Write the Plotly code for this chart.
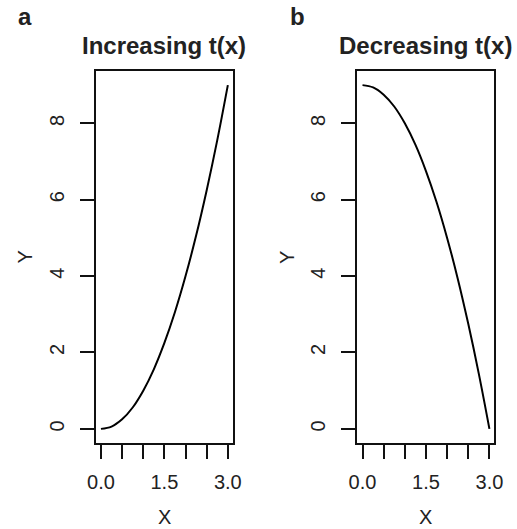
import plotly.graph_objects as go

# values
x_vals = [0.0, 0.25, 0.5, 0.75, 1.0, 1.25, 1.5, 1.75, 2.0, 2.25, 2.5, 2.75, 3.0]
y_incr = [0.0, 0.06, 0.25, 0.56, 1.0, 1.56, 2.25, 3.06, 4.0, 5.06, 6.25, 7.56, 9.0]
y_decr = [9.0, 8.94, 8.75, 8.44, 8.0, 7.44, 6.75, 5.94, 5.0, 3.94, 2.75, 1.44, 0.0]

x_ticks = [0.0, 0.5, 1.0, 1.5, 2.0, 2.5, 3.0]
x_labels = ["0.0", "", "", "1.5", "", "", "3.0"]
y_ticks = [0, 2, 4, 6, 8]
y_labels = ["0", "2", "4", "6", "8"]

W, H = 517, 529
font = "Liberation Sans, Arial, sans-serif"

fig = go.Figure()
fig.add_trace(go.Scatter(x=x_vals, y=y_incr, mode="lines", line=dict(color="black", width=2, shape="spline"),
                         xaxis="x", yaxis="y", showlegend=False))
fig.add_trace(go.Scatter(x=x_vals, y=y_decr, mode="lines", line=dict(color="black", width=2, shape="spline"),
                         xaxis="x2", yaxis="y2", showlegend=False))

ydom = [1 - 443 / H, 1 - 71 / H]
xax = dict(range=[-0.12, 3.12], tickvals=x_ticks, ticktext=x_labels, ticks="outside", ticklen=14,
           tickwidth=2, tickcolor="#111", showline=True, mirror=True, linecolor="#111", linewidth=2,
           showgrid=False, zeroline=False, tickfont=dict(size=20, color="#222", family=font),
           ticklabelstandoff=6)
yax = dict(range=[-0.37, 9.37], domain=ydom, tickvals=y_ticks, ticktext=y_labels, ticks="outside", ticklen=14,
           tickwidth=2, tickcolor="#111", showline=True, mirror=True, linecolor="#111", linewidth=2,
           showgrid=False, zeroline=False, tickangle=-90, tickfont=dict(size=20, color="#222", family=font),
           ticklabelstandoff=8)

fig.update_layout(
    width=W, height=H,
    margin=dict(l=0, r=0, t=0, b=0),
    paper_bgcolor="white", plot_bgcolor="white",
    xaxis=dict(xax, domain=[90 / W, 232 / W], anchor="y"),
    yaxis=dict(yax, anchor="x"),
    xaxis2=dict(xax, domain=[361 / W, 503 / W], anchor="y2"),
    yaxis2=dict(yax, anchor="x2"),
)

ann = []
for cx, title, letter, lx in [(161, "Increasing t(x)", "a", 17), (432, "Decreasing t(x)", "b", 299)]:
    ann.append(dict(text="<b>%s</b>" % title, x=cx / W, y=1 - 45 / H, xref="paper", yref="paper",
                    showarrow=False, xanchor="center", yanchor="middle",
                    font=dict(size=24, color="#222", family=font)))
    ann.append(dict(text="<b>%s</b>" % letter, x=lx / W, y=1 - 17 / H, xref="paper", yref="paper",
                    showarrow=False, xanchor="center", yanchor="middle",
                    font=dict(size=24, color="#222", family=font)))
    ann.append(dict(text="X", x=cx / W, y=1 - 517 / H, xref="paper", yref="paper",
                    showarrow=False, xanchor="center", yanchor="middle",
                    font=dict(size=20, color="#222", family=font)))
ann.append(dict(text="Y", x=17 / W, y=1 - 257 / H, xref="paper", yref="paper", textangle=-90,
                showarrow=False, xanchor="center", yanchor="middle", font=dict(size=20, color="#222", family=font)))
ann.append(dict(text="Y", x=288 / W, y=1 - 257 / H, xref="paper", yref="paper", textangle=-90,
                showarrow=False, xanchor="center", yanchor="middle", font=dict(size=20, color="#222", family=font)))
fig.update_layout(annotations=ann)

# page body has a default 8px margin; drop it so the figure sits at the window corner
fig.write_html("out.html", config={"displayModeBar": False},
               post_script="document.body.style.margin='0';document.body.style.overflow='hidden';")
